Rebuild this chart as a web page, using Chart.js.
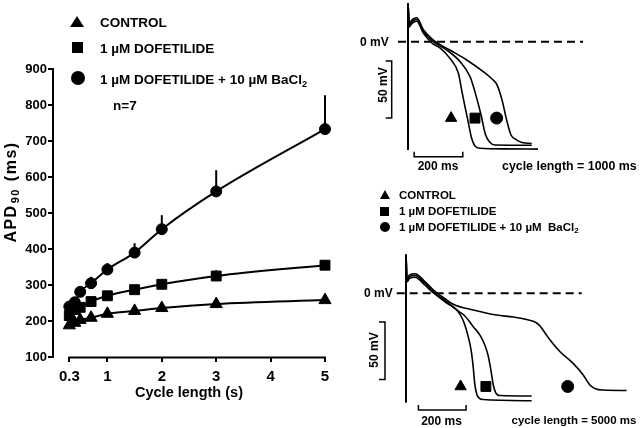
<!DOCTYPE html>
<html>
<head>
<meta charset="utf-8">
<script src="https://cdn.jsdelivr.net/npm/chart.js@4.4.1/dist/chart.umd.min.js"></script>
<style>
html, body { margin: 0; padding: 0; background: #fff; }
body { width: 640px; height: 428px; position: relative; overflow: hidden; font-family: Arial, "Liberation Sans", sans-serif; color: #000; }
canvas { position: absolute; }
#apdChart { left: 0; top: 0; }
#ap1000Chart { left: 340px; top: 0; }
#ap5000Chart { left: 340px; top: 250px; }
.t { position: absolute; font-weight: bold; white-space: nowrap; line-height: 1; }
.t sub { font-size: 0.68em; vertical-align: -0.3em; line-height: 0; }
.rot { transform: translate(-50%, -50%) rotate(-90deg); }
.sq { position: absolute; background: #000; }
.dot { position: absolute; background: #000; border-radius: 50%; }
.tri { position: absolute; width: 0; height: 0; border-style: solid; border-color: transparent transparent #000 transparent; }
</style>
</head>
<body>
<canvas id="apdChart" width="340" height="428"></canvas>
<canvas id="ap1000Chart" width="300" height="180"></canvas>
<canvas id="ap5000Chart" width="300" height="178"></canvas>

<!-- legend, left panel -->
<div class="tri" style="left:70px;top:16px;border-width:0 7px 11px 7px;"></div>
<div class="sq" style="left:72px;top:42px;width:11px;height:11px;"></div>
<div class="dot" style="left:71px;top:71px;width:14px;height:14px;"></div>
<div class="t" style="left:100px;top:15.5px;font-size:13.5px;">CONTROL</div>
<div class="t" style="left:100px;top:42px;font-size:13.5px;">1 µM DOFETILIDE</div>
<div class="t" style="left:100px;top:73px;font-size:13.5px;">1 µM DOFETILIDE + 10 µM BaCl<sub>2</sub></div>
<div class="t" style="left:113px;top:98.5px;font-size:13.5px;">n=7</div>

<!-- right panel labels -->
<div class="t" style="left:360px;top:36px;font-size:12px;">0 mV</div>
<div class="t rot" style="left:383px;top:85px;font-size:12px;">50 mV</div>
<div class="t" style="left:438px;top:160px;font-size:12px;transform:translateX(-50%);">200 ms</div>
<div class="t" style="left:502px;top:160px;font-size:12.4px;">cycle length = 1000 ms</div>

<div class="tri" style="left:380px;top:190px;border-width:0 5px 9px 5px;"></div>
<div class="sq" style="left:380px;top:207px;width:9px;height:9px;"></div>
<div class="dot" style="left:379.5px;top:221.5px;width:10px;height:10px;"></div>
<div class="t" style="left:399px;top:189.5px;font-size:11.5px;">CONTROL</div>
<div class="t" style="left:399px;top:205.5px;font-size:11.5px;">1 µM DOFETILIDE</div>
<div class="t" style="left:399px;top:221.5px;font-size:11.5px;">1 µM DOFETILIDE + 10 µM&nbsp; BaCl<sub>2</sub></div>

<div class="t" style="left:364px;top:287px;font-size:12px;">0 mV</div>
<div class="t rot" style="left:373.5px;top:350px;font-size:12px;">50 mV</div>
<div class="t" style="left:441.5px;top:415px;font-size:12px;transform:translateX(-50%);">200 ms</div>
<div class="t" style="left:511.5px;top:415px;font-size:11.5px;">cycle length = 5000 ms</div>

<script>
// APD90 vs cycle length (s), mean + SEM (n=7)
const cycleLengths = [0.3, 0.4, 0.5, 0.7, 1, 1.5, 2, 3, 5];
const apdControl = [188, 195, 203, 209, 220, 228, 236, 247, 258];
const apdDofetilide = [215, 232, 238, 254, 270, 287, 302, 325, 355];
const apdDofBa = [240, 252, 281, 305, 343, 390, 455, 560, 733];
const semControl = [4, 4, 4, 5, 5, 5, 5, 6, 6];
const semDofetilide = [5, 6, 6, 7, 8, 8, 9, 16, 14];
const semDofBa = [8, 10, 14, 18, 18, 26, 39, 59, 94];
const xTickValues = [0.3, 1, 2, 3, 4, 5];

// action potential traces: [time (ms), membrane potential (mV)]
const upstroke = [[0, -95], [0, 34]];
const ap1000Control = [[1, 30], [5, 13], [12, 15], [25, 17.5], [36, 18], [63, 7.5], [100, -1.5], [131, -5.5], [172, -14.6], [207, -27.7], [220, -42], [232, -55], [244, -67], [261, -84.5], [275, -91.5], [296, -93.5], [400, -94], [534, -94.2]];
const ap1000Dofetilide = [[1, 30], [5, 14], [12, 16.5], [25, 19], [36, 19.5], [63, 9], [104, 0], [159, -7.3], [214, -17.5], [255, -30.7], [275, -44], [300, -64.3], [318, -81.4], [337, -88.4], [357, -90.6], [508, -90.8]];
const ap1000DofBa = [[1, 30], [5, 15], [12, 18], [25, 20.5], [36, 21], [63, 10.5], [104, 1.5], [172, -7.3], [241, -16], [309, -26.3], [345, -32.7], [366, -38], [386, -51], [405, -68.7], [423, -81.8], [444, -85.8], [468, -88.4], [508, -89.3]];
const ap5000Control = [[1, 29], [4, 10], [15, 13], [38, 14], [80, 7], [114, 0.5], [171, -8.5], [213, -14.5], [239, -23.2], [260, -37], [273, -49.3], [281, -62.3], [289, -79.7], [300, -89.3], [323, -92.3], [527, -93.4]];
const ap5000Dofetilide = [[1, 29], [4, 11], [15, 14.5], [38, 15.5], [80, 8.5], [114, 1.4], [171, -7.3], [213, -14.5], [247, -19.7], [282, -29], [310, -36.3], [327, -43.2], [344, -53.7], [356, -66.7], [366, -79.7], [377, -86.7], [394, -88.9], [527, -89.3]];
const ap5000DofBa = [[1, 29], [4, 12], [15, 16], [38, 17], [80, 10], [114, 3], [143, -1.5], [198, -9.5], [282, -14.5], [380, -18.9], [450, -20.6], [506, -22.8], [541, -25], [562, -28.4], [583, -34.5], [604, -40.6], [646, -50.8], [701, -60.9], [743, -71], [771, -79.7], [797, -83.2], [827, -84.1], [925, -84.5]];
// symbol placement under the traces: [time (ms), mV]
const marks1000 = [[177, -67], [275, -67], [364, -67]];
const marks5000 = [[229, -81], [335, -81], [678, -81]];
const markStyles = ['triangle', 'rect', 'circle'];

Chart.defaults.font.family = 'Arial, "Liberation Sans", sans-serif';
Chart.defaults.color = '#000';

const toXY = arr => arr.map(p => ({x: p[0], y: p[1]}));
const seriesPoints = ys => cycleLengths.map((x, i) => ({x: x, y: ys[i]}));

// error bars (upper half only, like the original)
const errorBars = {
    id: 'errorBars',
    beforeDatasetsDraw(chart) {
        const {ctx, scales: {x, y}} = chart;
        ctx.save();
        ctx.strokeStyle = '#000';
        ctx.lineWidth = 2;
        chart.data.datasets.forEach(ds => {
            if (!ds.sem) return;
            ds.data.forEach((p, i) => {
                const px = x.getPixelForValue(p.x);
                ctx.beginPath();
                ctx.moveTo(px, y.getPixelForValue(p.y));
                ctx.lineTo(px, y.getPixelForValue(p.y + ds.sem[i]));
                ctx.stroke();
            });
        });
        ctx.restore();
    }
};

// x axis line only from the first to the last tick, and the y title with subscript
const apdDecor = {
    id: 'apdDecor',
    afterDraw(chart) {
        const {ctx, scales: {x, y}} = chart;
        ctx.save();
        ctx.strokeStyle = '#000';
        ctx.lineWidth = 2;
        ctx.beginPath();
        ctx.moveTo(x.getPixelForValue(xTickValues[0]) - 1, y.bottom + 0.5);
        ctx.lineTo(x.getPixelForValue(xTickValues[xTickValues.length - 1]) + 1, y.bottom + 0.5);
        ctx.stroke();

        ctx.translate(16, 192);
        ctx.rotate(-Math.PI / 2);
        ctx.fillStyle = '#000';
        ctx.textBaseline = 'alphabetic';
        ctx.letterSpacing = '1.5px';
        const big = 'bold 16px Arial, "Liberation Sans", sans-serif';
        const small = 'bold 11px Arial, "Liberation Sans", sans-serif';
        ctx.font = big;
        const w1 = ctx.measureText('APD').width;
        const w3 = ctx.measureText(' (ms)').width;
        ctx.font = small;
        const w2 = ctx.measureText('90').width;
        let cx = -(w1 + w2 + w3 + 2) / 2;
        ctx.font = big;
        ctx.fillText('APD', cx, 0);
        cx += w1 + 1;
        ctx.font = small;
        ctx.fillText('90', cx, 3);
        cx += w2 + 1;
        ctx.font = big;
        ctx.fillText(' (ms)', cx, 0);
        ctx.restore();
    }
};

const lineSeries = (label, ys, sem, style, radius) => ({
    label: label,
    data: seriesPoints(ys),
    sem: sem,
    showLine: true,
    borderColor: '#000',
    borderWidth: 2,
    backgroundColor: '#000',
    cubicInterpolationMode: 'monotone',
    pointStyle: style,
    pointRadius: radius,
    pointHoverRadius: radius,
    pointBorderWidth: 1,
    pointBorderColor: '#000',
    pointBackgroundColor: '#000',
    clip: false
});

new Chart(document.getElementById('apdChart'), {
    type: 'scatter',
    data: {
        datasets: [
            lineSeries('CONTROL', apdControl, semControl, 'triangle', 7),
            lineSeries('1 µM DOFETILIDE', apdDofetilide, semDofetilide, 'rect', 7),
            lineSeries('1 µM DOFETILIDE + 10 µM BaCl2', apdDofBa, semDofBa, 'circle', 5.5)
        ]
    },
    options: {
        responsive: false,
        animation: false,
        layout: {autoPadding: false, padding: {top: 69, right: 15, left: 0, bottom: 0}},
        plugins: {legend: {display: false}, tooltip: {enabled: false}},
        scales: {
            x: {
                type: 'linear',
                min: 0,
                max: 5,
                afterFit(scale) { scale.height = 71; },
                afterBuildTicks(scale) { scale.ticks = xTickValues.map(v => ({value: v})); },
                ticks: {
                    font: {size: 15, weight: 'bold'},
                    padding: 6,
                    maxRotation: 0,
                    autoSkip: false,
                    callback: v => String(v)
                },
                grid: {drawOnChartArea: false, tickLength: 5, color: '#000', lineWidth: 2},
                border: {display: false},
                title: {
                    display: true,
                    text: 'Cycle length (s)',
                    font: {size: 14.5, weight: 'bold'},
                    padding: {top: 0, bottom: 26}
                }
            },
            y: {
                min: 100,
                max: 900,
                afterFit(scale) { scale.width = 53; },
                ticks: {stepSize: 100, font: {size: 13, weight: 'bold'}, padding: 1},
                grid: {drawOnChartArea: false, tickLength: 5, color: '#000', lineWidth: 2},
                border: {display: true, color: '#000', width: 2}
            }
        }
    },
    plugins: [errorBars, apdDecor]
});

// calibration marks for the trace panels: 0 mV line, 50 mV bar, 200 ms bar
const scaleBars = {
    id: 'scaleBars',
    afterDatasetsDraw(chart, args, opts) {
        const {ctx, scales: {x, y}} = chart;
        ctx.save();
        ctx.strokeStyle = '#000';
        ctx.lineWidth = 2;
        ctx.setLineDash([8, 5]);
        ctx.beginPath();
        ctx.moveTo(x.getPixelForValue(opts.zero[0]), y.getPixelForValue(0));
        ctx.lineTo(x.getPixelForValue(opts.zero[1]), y.getPixelForValue(0));
        ctx.stroke();
        ctx.setLineDash([]);
        ctx.lineWidth = 1.5;
        const bx = x.getPixelForValue(opts.mvBar.t);
        const by1 = y.getPixelForValue(opts.mvBar.from);
        const by2 = y.getPixelForValue(opts.mvBar.to);
        ctx.beginPath();
        ctx.moveTo(bx - 6, by1);
        ctx.lineTo(bx, by1);
        ctx.lineTo(bx, by2);
        ctx.lineTo(bx - 6, by2);
        ctx.stroke();
        const hy = y.getPixelForValue(opts.msBar.mv);
        const hx1 = x.getPixelForValue(opts.msBar.from);
        const hx2 = x.getPixelForValue(opts.msBar.to);
        ctx.beginPath();
        ctx.moveTo(hx1, hy - 5);
        ctx.lineTo(hx1, hy);
        ctx.lineTo(hx2, hy);
        ctx.lineTo(hx2, hy - 5);
        ctx.stroke();
        ctx.restore();
    }
};

const traceSet = (label, pts) => ({
    label: label,
    data: toXY(pts),
    showLine: true,
    borderColor: '#000',
    borderWidth: 1.6,
    pointRadius: 0,
    cubicInterpolationMode: 'monotone'
});

function apChart(id, range, traces, marks, bars) {
    return new Chart(document.getElementById(id), {
        type: 'scatter',
        data: {
            datasets: [
                {label: 'upstroke', data: toXY(upstroke), showLine: true, borderColor: '#000', borderWidth: 2, pointRadius: 0},
                traceSet('CONTROL', traces[0]),
                traceSet('1 µM DOFETILIDE', traces[1]),
                traceSet('1 µM DOFETILIDE + 10 µM BaCl2', traces[2]),
                {
                    label: 'symbols',
                    data: toXY(marks),
                    showLine: false,
                    pointStyle: markStyles,
                    pointRadius: [6.5, 7, 6],
                    pointBackgroundColor: '#000',
                    pointBorderColor: '#000',
                    pointBorderWidth: 1
                }
            ]
        },
        options: {
            responsive: false,
            animation: false,
            layout: {autoPadding: false, padding: 0},
            plugins: {legend: {display: false}, tooltip: {enabled: false}, scaleBars: bars},
            scales: {
                x: {type: 'linear', display: false, min: range[0], max: range[1]},
                y: {display: false, min: range[2], max: range[3]}
            }
        },
        plugins: [scaleBars]
    });
}

apChart('ap1000Chart', [-279.3, 952.7, -121.3, 36.6],
    [ap1000Control, ap1000Dofetilide, ap1000DofBa], marks1000,
    {zero: [-41, 719], mvBar: {t: -67, from: -17, to: -67}, msBar: {mv: -101, from: 25, to: 225}});

apChart('ap5000Chart', [-276.7, 981.2, -117.1, 37.65],
    [ap5000Control, ap5000Dofetilide, ap5000DofBa], marks5000,
    {zero: [-39, 737], mvBar: {t: -88, from: -25, to: -75}, msBar: {mv: -101.5, from: 52, to: 252}});
</script>
</body>
</html>
